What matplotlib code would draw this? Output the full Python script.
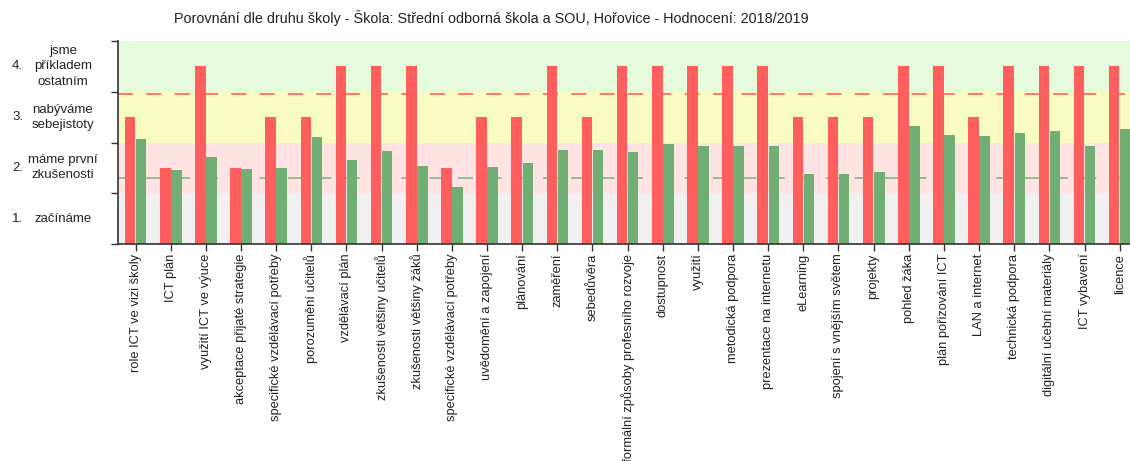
import numpy as np
import matplotlib
matplotlib.use("Agg")
import matplotlib.pyplot as plt

plt.rcParams['font.family'] = ['Liberation Sans', 'DejaVu Sans']

title = "Porovnání dle druhu školy - Škola: Střední odborná škola a SOU, Hořovice - Hodnocení: 2018/2019"

kategorie = ["role ICT ve vizi školy", "ICT plán", "využití ICT ve výuce",
             "akceptace přijaté strategie", "specifické vzdělávací potřeby",
             "porozumění učitelů", "vzdělávací plán", "zkušenosti většiny učitelů",
             "zkušenosti většiny žáků", "specifické vzdělávací potřeby",
             "uvědomění a zapojení", "plánování", "zaměření", "sebedůvěra",
             "neformální způsoby profesního rozvoje", "dostupnost", "využití",
             "metodická podpora", "prezentace na internetu", "eLearning",
             "spojení s vnějším světem", "projekty", "pohled žáka",
             "plán pořizování ICT", "LAN a internet", "technická podpora",
             "digitální učební materiály", "ICT vybavení", "licence"]

skola = [3, 2, 4, 2, 3, 3, 4, 4, 4, 2, 3, 3, 4, 3, 4, 4, 4, 4, 4, 3,
         3, 3, 4, 4, 3, 4, 4, 4, 4]
prumer = [2.56, 1.95, 2.22, 1.98, 2.0, 2.61, 2.16, 2.34, 2.04, 1.63,
          2.02, 2.09, 2.35, 2.35, 2.31, 2.48, 2.44, 2.44, 2.44, 1.88,
          1.88, 1.91, 2.83, 2.65, 2.62, 2.68, 2.72, 2.44, 2.77]

prumer_skola = 3.45
prumer_typ = 1.8

urovne = ["začínáme", "máme první\nzkušenosti", "nabýváme\nsebejistoty",
          "jsme\npříkladem\nostatním"]

fig = plt.figure(figsize=(11.3, 4.61), dpi=100)
ax = fig.add_axes([0.1044, 0.4707, 0.902, 0.4403])

# pozadi - pasy urovni
barvy_pasu = ["#f0f0f0", "#ffe3e3", "#f8fcc2", "#e5fbdc"]
for i, c in enumerate(barvy_pasu):
    ax.axhspan(0.5 + i, 1.5 + i, color=c, zorder=0, lw=0)

ax.axhline(prumer_skola, color="#ff6060", lw=1.2, dashes=(9, 8), zorder=1)
ax.axhline(prumer_typ, color="#7fb884", lw=1.2, dashes=(9, 8), zorder=1)

x = np.arange(len(kategorie))
w = 0.3
ax.bar(x - 0.155, np.array(skola) - 0.5, w, bottom=0.5, color="#ff5e5e", zorder=2)
ax.bar(x + 0.16, np.array(prumer) - 0.5, w, bottom=0.5, color="#70ae74", zorder=2)

ax.set_xlim(-0.5, 28.5)
ax.set_ylim(0.5, 4.5)
ax.set_xticks(x)
ax.set_xticklabels(kategorie, rotation=90, fontsize=9.3, color="#222222")
ax.set_yticks([0.5, 1.5, 2.5, 3.5, 4.5])
ax.set_yticklabels([])
ax.tick_params(axis="both", length=5, width=1, color="#333333")
ax.tick_params(axis="x", pad=2)

for s in ["top", "right"]:
    ax.spines[s].set_visible(False)
for s in ["left", "bottom"]:
    ax.spines[s].set_color("#333333")
    ax.spines[s].set_linewidth(1.2)

for i, t in enumerate(urovne):
    ax.text(-0.104, i + 1, f"{i + 1}.", transform=ax.get_yaxis_transform(),
            fontsize=9.5, ha="left", va="center", color="#222222")
    ax.text(-0.054, i + 1, t, transform=ax.get_yaxis_transform(),
            fontsize=9.5, ha="center", va="center", color="#222222",
            linespacing=1.35)

fig.text(0.435, 0.962, title, ha="center", va="center", fontsize=10.4, color="#222222")

fig.savefig("out.png", dpi=100)
